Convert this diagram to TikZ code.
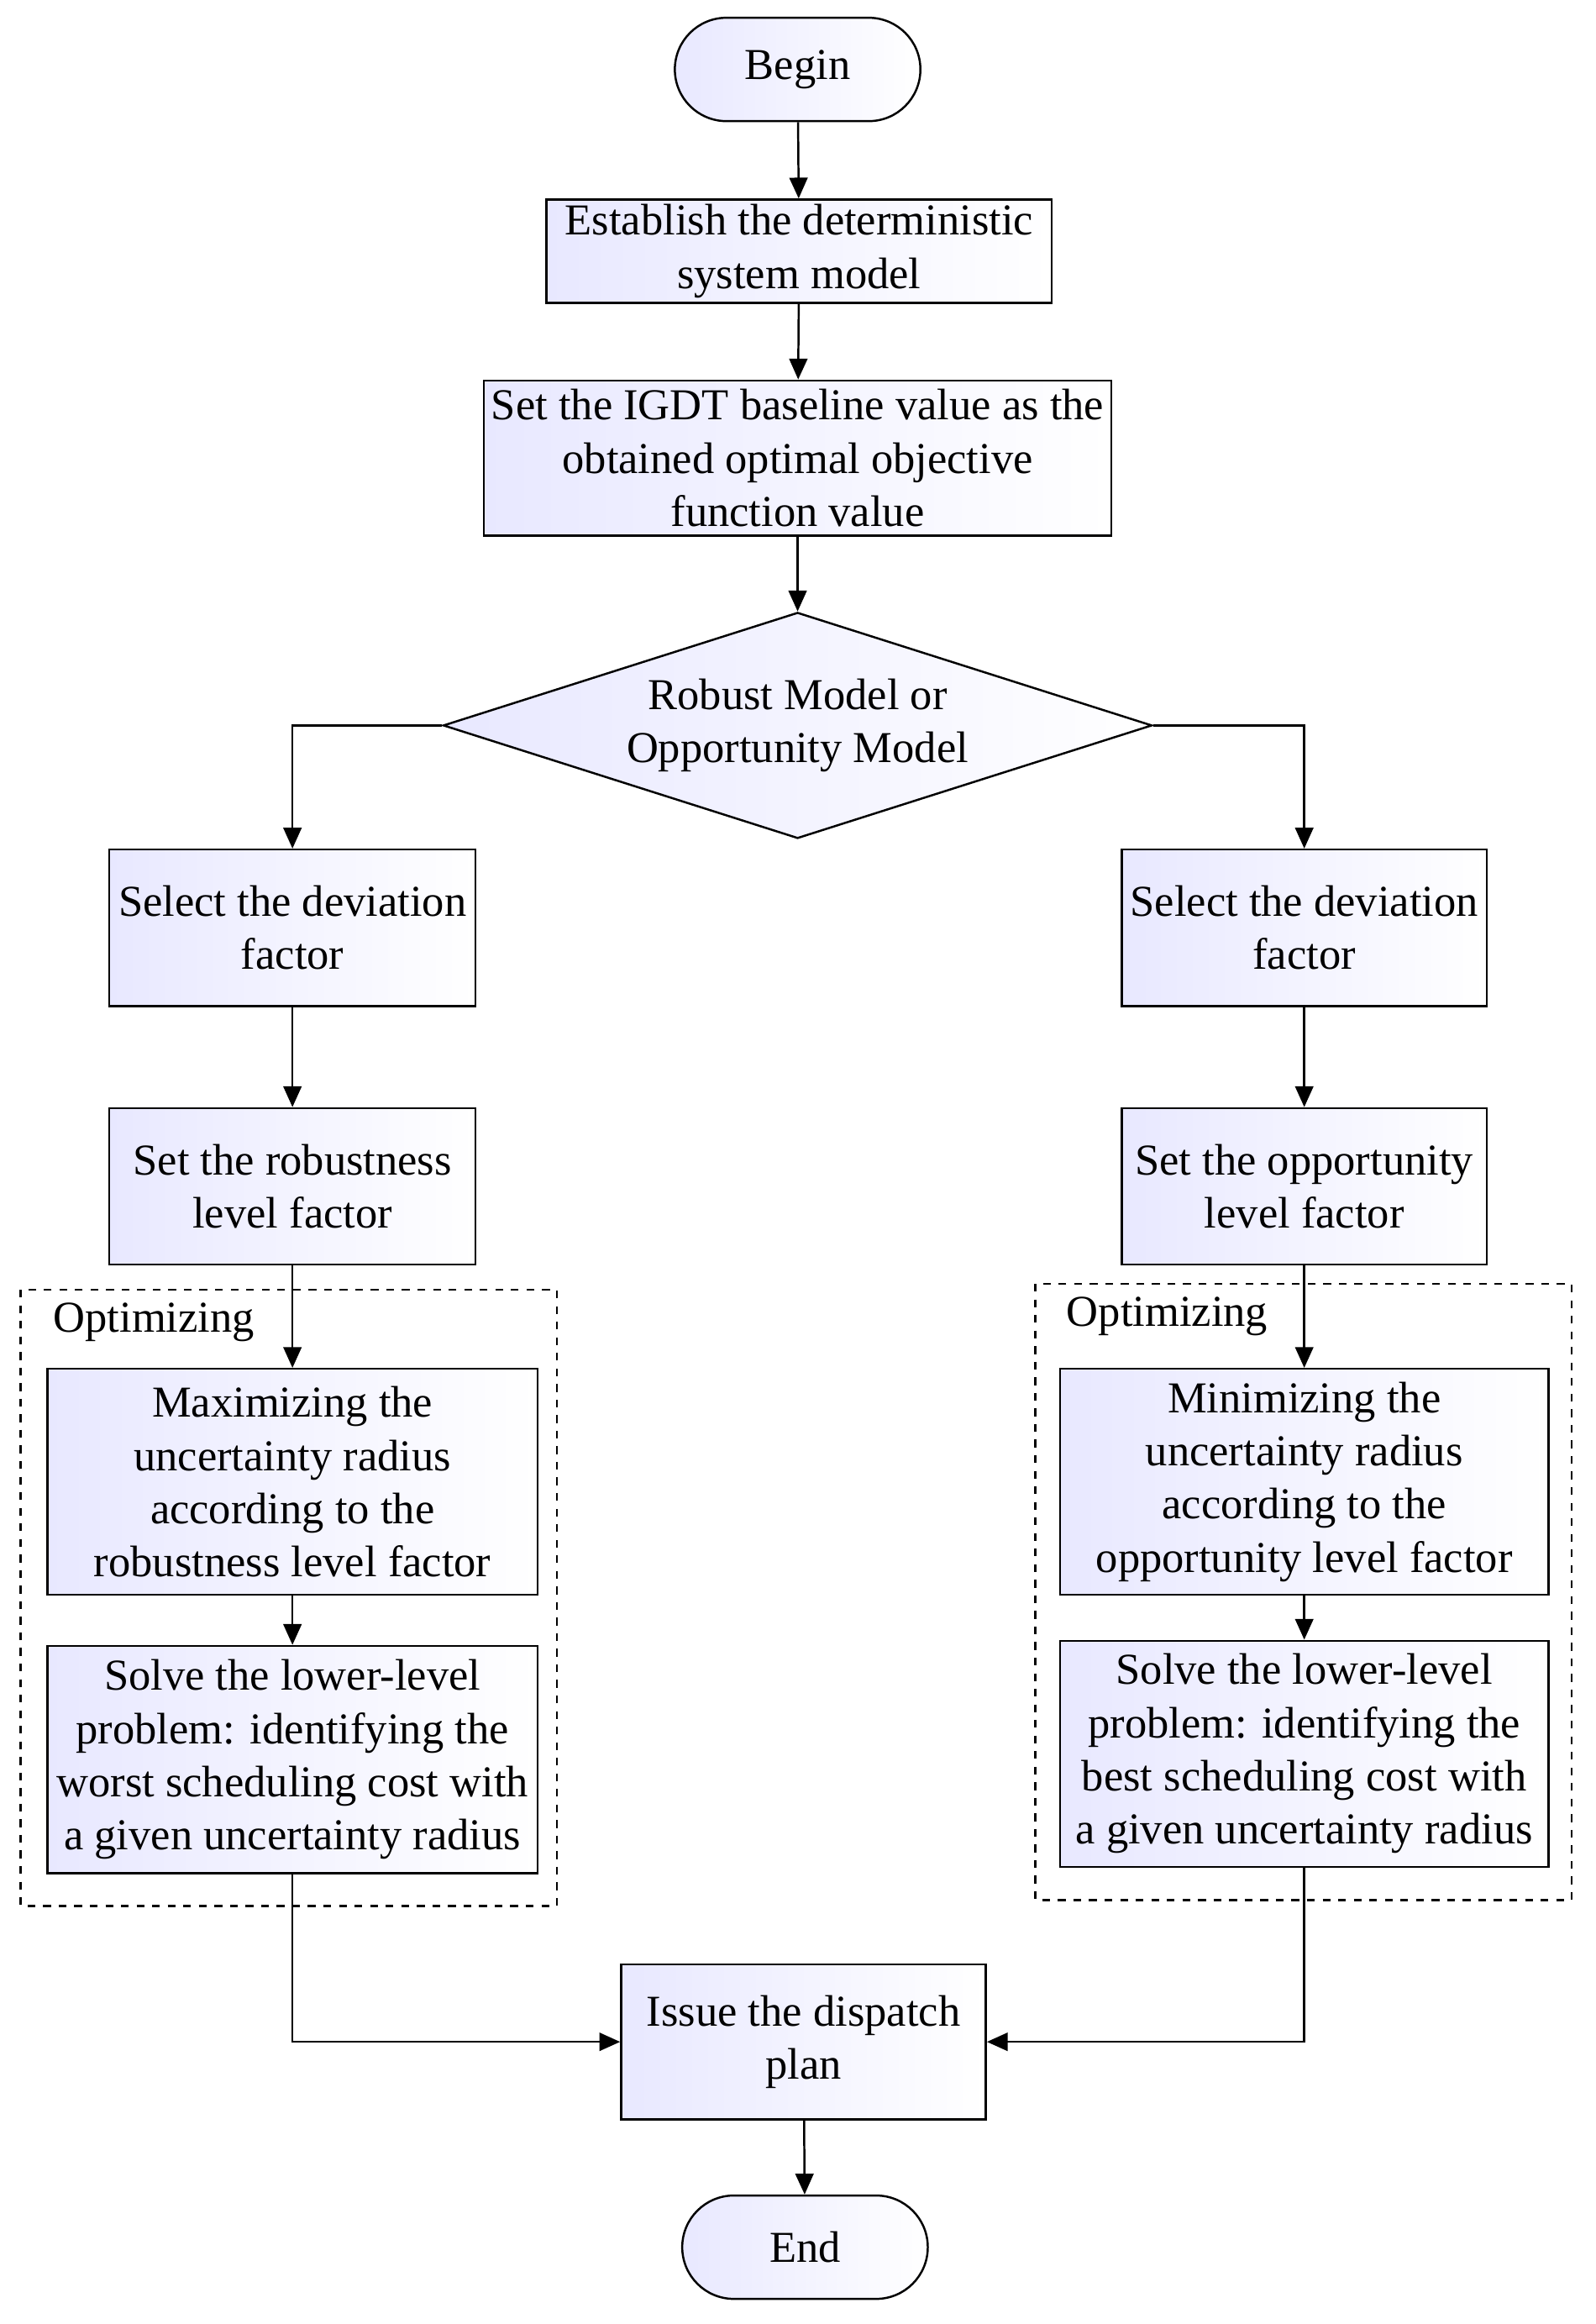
\documentclass[tikz,border=0pt]{standalone}
\usepackage{fontspec}
\setmainfont{Liberation Serif}
\usetikzlibrary{arrows.meta,positioning,shapes.geometric,shapes.misc,calc}

\begin{document}
\begin{tikzpicture}[x=0.02cm,y=-0.02cm,
    box/.style={draw,thick,rectangle,left color=blue!9,right color=white,align=center,font=\fontsize{17}{20.5}\selectfont,inner sep=0pt},
    term/.style={draw,thick,rounded rectangle,left color=blue!9,right color=white,minimum width=3.56cm,minimum height=1.4cm,font=\fontsize{17}{20.5}\selectfont},
    flow/.style={-{Triangle[length=8pt,width=7pt]},thick},
    group/.style={draw,thick,dashed},
    lbl/.style={font=\fontsize{17}{20.5}\selectfont,anchor=west}
  ]
    \useasboundingbox (0,0) rectangle (1080,1573);
    % Start and common steps
    \node[term] (begin) at (540,47) {Begin};
    \node[box,minimum width=6.84cm,minimum height=1.4cm] (det) at (541,170) {Establish the deterministic\\system model};
    \node[box,minimum width=8.5cm,minimum height=2.1cm] (base) at (540,310) {Set the IGDT baseline value as the\\obtained optimal objective\\function value};
    \node[draw,thick,diamond,aspect=3.14,minimum width=9.6cm,minimum height=3.06cm,left color=blue!9,right color=white,align=center,font=\fontsize{17}{20.5}\selectfont,inner sep=0pt] (model) at (540,491) {Robust Model or\\Opportunity Model};

    % Robust branch
    \draw[group] (14,873) rectangle (377,1290);
    \node[lbl] (optl) at (30,895) {Optimizing};
    \node[box,minimum width=4.96cm,minimum height=2.12cm] (devl) at (198,628) {Select the deviation\\factor};
    \node[box,minimum width=4.96cm,minimum height=2.12cm] (rob) at (198,803) {Set the robustness\\level factor};
    \node[box,minimum width=6.64cm,minimum height=3.06cm] (maxr) at (198,1003) {Maximizing the\\uncertainty radius\\according to the\\robustness level factor};
    \node[box,minimum width=6.64cm,minimum height=3.08cm] (worst) at (198,1191) {Solve the lower-level\\problem: identifying the\\worst scheduling cost with\\a given uncertainty radius};

    % Opportunity branch
    \draw[group] (701,869) rectangle (1064,1286);
    \node[lbl] (optr) at (716,891) {Optimizing};
    \node[box,minimum width=4.94cm,minimum height=2.12cm] (devr) at (883,628) {Select the deviation\\factor};
    \node[box,minimum width=4.94cm,minimum height=2.12cm] (opp) at (883,803) {Set the opportunity\\level factor};
    \node[box,minimum width=6.62cm,minimum height=3.06cm] (minr) at (883,1003) {Minimizing the\\uncertainty radius\\according to the\\opportunity level factor};
    \node[box,minimum width=6.62cm,minimum height=3.06cm] (best) at (883,1187) {Solve the lower-level\\problem: identifying the\\best scheduling cost with\\a given uncertainty radius};

    % End
    \node[box,minimum width=4.94cm,minimum height=2.1cm] (plan) at (544,1382) {Issue the dispatch\\plan};
    \node[term] (end) at (545,1521) {End};

    % Connectors
    \draw[flow] (begin) -- (det);
    \draw[flow] (det) -- (base);
    \draw[flow] (base) -- (model);
    \draw[flow] (model.west) -| (devl);
    \draw[flow] (model.east) -| (devr);
    \draw[flow] (devl) -- (rob);
    \draw[flow] (rob) -- (maxr);
    \draw[flow] (maxr) -- (worst);
    \draw[flow] (devr) -- (opp);
    \draw[flow] (opp) -- (minr);
    \draw[flow] (minr) -- (best);
    \draw[flow] (worst.south) |- (plan.west);
    \draw[flow] (best.south) |- (plan.east);
    \draw[flow] (plan) -- (end);
  \end{tikzpicture}
\end{document}
